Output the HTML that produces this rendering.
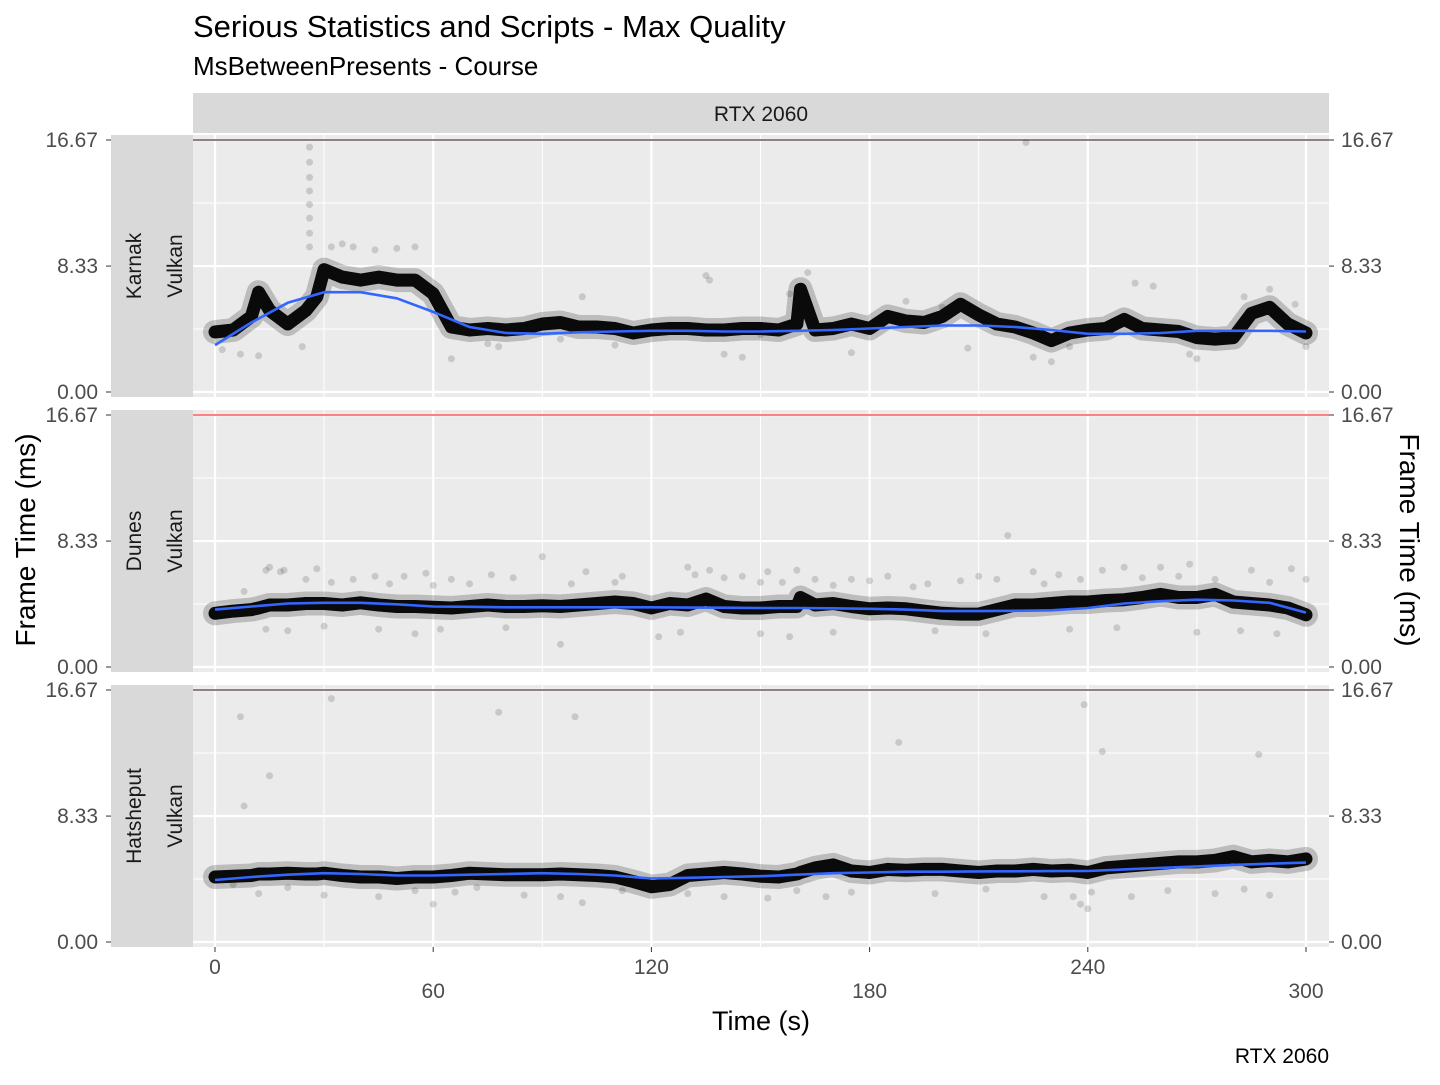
<!DOCTYPE html>
<html><head><meta charset="utf-8"><style>
body{margin:0;background:#fff;}
svg text{font-family:"Liberation Sans",sans-serif;}
</style></head><body>
<svg id="chart" width="1440" height="1080" viewBox="0 0 1440 1080" xmlns="http://www.w3.org/2000/svg">
<text x="193" y="37" font-size="31" fill="#000">Serious Statistics and Scripts - Max Quality</text>
<text x="193" y="75" font-size="26" fill="#000">MsBetweenPresents - Course</text>
<rect x="193" y="93" width="1136" height="40" fill="#d9d9d9"/>
<text x="761" y="121" font-size="21" text-anchor="middle" fill="#1a1a1a">RTX 2060</text>
<g id="panels"></g>
<text transform="translate(35,540) rotate(-90)" font-size="28" text-anchor="middle">Frame Time (ms)</text>
<text transform="translate(1400,540) rotate(90)" font-size="28" text-anchor="middle">Frame Time (ms)</text>
<text x="761" y="1030" font-size="27" text-anchor="middle">Time (s)</text>
<text x="1329" y="1063" font-size="21" text-anchor="end">RTX 2060</text>
</svg>
<script>
const bandTimes = [0,5,10,12,15,20,25,28,30,35,40,45,50,55,60,65,70,75,80,85,90,95,100,105,110,115,120,125,130,135,140,145,150,155,160,161,165,170,175,180,185,190,195,200,205,210,215,220,225,230,235,240,245,250,255,260,265,270,275,280,285,290,295,300];
const karnakBand = [3.97,4.1,5.0,6.6,5.4,4.5,5.4,6.3,8.1,7.6,7.4,7.6,7.4,7.4,6.5,4.3,4.1,4.2,4.1,4.2,4.5,4.6,4.3,4.3,4.2,3.9,4.1,4.2,4.2,4.1,4.1,4.2,4.2,4.1,4.5,6.8,4.1,4.2,4.5,4.2,5.0,4.7,4.6,5.0,5.8,5.1,4.5,4.3,3.9,3.4,3.9,4.1,4.2,4.8,4.2,4.1,4.0,3.6,3.5,3.6,5.2,5.6,4.5,3.9];
const dunesBand = [3.55,3.7,3.8,3.9,4.1,4.1,4.2,4.2,4.2,4.1,4.25,4.1,4.0,4.0,3.95,3.9,4.0,4.1,4.0,4.0,4.05,4.0,4.1,4.2,4.3,4.2,3.9,4.2,4.1,4.5,4.0,3.9,3.9,4.0,4.0,4.6,4.1,4.2,4.0,3.85,3.9,3.85,3.7,3.55,3.5,3.5,3.8,4.1,4.1,4.2,4.3,4.3,4.4,4.45,4.6,4.8,4.6,4.6,4.8,4.3,4.2,4.1,3.9,3.45];
const hatshepsutBand = [4.3,4.35,4.4,4.5,4.5,4.55,4.5,4.5,4.55,4.4,4.3,4.3,4.2,4.3,4.3,4.4,4.55,4.5,4.45,4.45,4.45,4.5,4.45,4.4,4.3,4.0,3.65,3.8,4.4,4.5,4.6,4.5,4.35,4.3,4.5,4.6,4.9,5.1,4.7,4.6,4.8,4.75,4.8,4.8,4.7,4.6,4.7,4.7,4.8,4.7,4.75,4.6,4.9,5.0,5.1,5.2,5.3,5.3,5.4,5.65,5.3,5.4,5.3,5.5];
const smoothTimes = [0,10,20,30,40,50,60,70,80,90,100,110,120,130,140,150,160,170,180,190,200,210,220,230,240,250,260,270,280,290,300];
const karnakSmooth = [3.1,4.6,5.9,6.6,6.6,6.2,5.3,4.3,3.9,3.85,3.95,4.0,4.05,4.05,4.0,4.0,4.05,4.1,4.2,4.3,4.4,4.4,4.3,4.1,3.85,3.85,3.9,4.05,4.05,4.05,4.0];
const dunesSmooth = [3.8,4.0,4.2,4.25,4.25,4.15,4.0,3.98,3.95,3.95,3.95,3.95,3.95,3.93,3.92,3.9,3.9,3.88,3.85,3.8,3.7,3.7,3.72,3.75,3.9,4.2,4.35,4.45,4.4,4.25,3.6];
const hatshepsutSmooth = [4.1,4.3,4.45,4.55,4.5,4.4,4.4,4.45,4.5,4.55,4.5,4.4,4.2,4.25,4.3,4.35,4.45,4.55,4.6,4.65,4.65,4.67,4.68,4.69,4.7,4.8,4.9,5.0,5.1,5.18,5.25];
const karnakOutT = [26,26,26,26,26,26,26,26,32,35,38,44,50,55,2,7,12,24,65,75,78,95,101,110,135,136,140,145,150,158,163,175,190,200,207,223,225,230,235,253,258,268,270,283,290,297,300];
const karnakOutV = [16.2,15.2,14.2,13.3,12.4,11.5,10.5,9.6,9.6,9.8,9.6,9.4,9.5,9.6,2.8,2.5,2.4,3.0,2.2,3.2,3.0,3.5,6.3,3.1,7.7,7.4,2.5,2.3,3.8,6.5,7.9,2.6,6.0,5.6,2.9,16.5,2.3,2.0,3.0,7.2,7.0,2.5,2.2,6.3,6.8,5.8,3.0];
const dunesOutT = [8,14,15,18,19,25,28,32,38,44,48,52,58,60,65,70,76,82,90,98,102,110,112,130,132,136,140,145,150,152,156,160,165,170,175,180,185,192,196,205,210,215,218,225,228,232,238,244,250,255,260,265,268,275,285,290,296,300,14,20,30,45,55,62,80,95,122,128,150,158,170,198,212,235,248,270,282,292];
const dunesOutV = [5.0,6.4,6.6,6.3,6.4,5.8,6.5,5.6,5.8,6.0,5.5,6.0,6.2,5.4,5.8,5.5,6.1,5.9,7.3,5.5,6.3,5.6,6.0,6.6,6.1,6.4,5.9,6.0,5.6,6.3,5.6,6.4,5.8,5.4,5.8,5.7,6.0,5.3,5.5,5.7,6.0,5.8,8.7,6.3,5.5,6.1,5.8,6.4,6.6,5.9,6.6,6.0,6.8,5.8,6.4,5.6,6.5,5.8,2.5,2.4,2.7,2.5,2.2,2.5,2.6,1.5,2.0,2.3,2.2,2.0,2.3,2.4,2.2,2.5,2.6,2.3,2.4,2.2];
const hatshepsutOutT = [7,8,15,32,78,99,188,239,244,287,5,12,20,30,45,55,60,66,72,85,95,101,112,120,130,140,152,160,168,175,198,212,228,236,238,240,241,252,262,275,283,290];
const hatshepsutOutV = [14.9,9.0,11.0,16.1,15.2,14.9,13.2,15.7,12.6,12.4,3.8,3.2,3.6,3.1,3.0,3.4,2.5,3.3,3.6,3.1,3.0,2.6,3.4,3.8,3.2,3.0,2.9,3.4,3.0,3.3,3.2,3.5,3.0,3.0,2.5,2.2,3.3,3.0,3.4,3.2,3.5,3.1];

const panels = [
  {name:'karnak', label:'Karnak', band:karnakBand, smooth:karnakSmooth, outT:karnakOutT, outV:karnakOutV},
  {name:'dunes', label:'Dunes', band:dunesBand, smooth:dunesSmooth, outT:dunesOutT, outV:dunesOutV},
  {name:'hatshepsut', label:'Hatsheput', band:hatshepsutBand, smooth:hatshepsutSmooth, outT:hatshepsutOutT, outV:hatshepsutOutV}
];
const yTicks = [0, 8.33, 16.67];
const yTickLabels = ['0.00','8.33','16.67'];
const yMinor = [4.165, 12.5];
const xTicks = [0,60,120,180,240,300];
const xMinor = [30,90,150,210,270];

const NS = 'http://www.w3.org/2000/svg';
const root = document.getElementById('panels');
const PX0 = 193, PW = 1136, PH = 262;
const xs = t => 215 + t * (1306 - 215) / 300;
function mk(tag, attrs, parent){
  const e = document.createElementNS(NS, tag);
  for (const k in attrs) e.setAttribute(k, attrs[k]);
  (parent || root).appendChild(e);
  return e;
}
panels.forEach((p, i) => {
  const top = 135 + i * 275;
  const ys = v => top + 5 + (16.67 - v) * 252 / 16.67;
  const g = mk('g', {});
  
  
  const bg = mk('rect', {x:PX0, y:top, width:PW, height:PH, fill:'#ebebeb'}, g);
  
  
  const strip = mk('rect', {x:111, y:top, width:82, height:PH, fill:'#d9d9d9'}, g);
  
  
  const l1 = mk('text', {transform:`translate(141,${top+PH/2}) rotate(-90)`, 'font-size':21, 'text-anchor':'middle', fill:'#1a1a1a'}, g);
  l1.textContent = p.label;
  
  
  const l2 = mk('text', {transform:`translate(182,${top+PH/2}) rotate(-90)`, 'font-size':21, 'text-anchor':'middle', fill:'#1a1a1a'}, g);
  l2.textContent = 'Vulkan';
  
  
  yMinor.forEach(v => {
    const gl = mk('line', {x1:PX0, x2:PX0+PW, y1:ys(v), y2:ys(v), stroke:'#fff', 'stroke-width':1}, g);
    
    
  });
  xMinor.forEach(t => {
    const gl = mk('line', {x1:xs(t), x2:xs(t), y1:top, y2:top+PH, stroke:'#fff', 'stroke-width':1}, g);
    
    
  });
  yTicks.forEach((v, k) => {
    const gl = mk('line', {x1:PX0, x2:PX0+PW, y1:ys(v), y2:ys(v), stroke:'#fff', 'stroke-width':2.2}, g);
    
    
    const tl = mk('line', {x1:106, x2:111, y1:ys(v), y2:ys(v), stroke:'#333', 'stroke-width':1}, g);
    
    
    const tr = mk('line', {x1:PX0+PW, x2:PX0+PW+5, y1:ys(v), y2:ys(v), stroke:'#333', 'stroke-width':1}, g);
    
    
    const a = mk('text', {x:98, y:ys(v)+7, 'font-size':21, 'text-anchor':'end', fill:'#4d4d4d'}, g);
    a.textContent = yTickLabels[k];
    
    
    const b = mk('text', {x:1341, y:ys(v)+7, 'font-size':21, fill:'#4d4d4d'}, g);
    b.textContent = yTickLabels[k];
    
    
  });
  xTicks.forEach(t => {
    const gl = mk('line', {x1:xs(t), x2:xs(t), y1:top, y2:top+PH, stroke:'#fff', 'stroke-width':2.2}, g);
    
    
  });
  const ref = mk('line', {x1:PX0, x2:PX0+PW, y1:ys(16.67), y2:ys(16.67), stroke: i===1 ? '#ff0000' : '#200000', 'stroke-width':1}, g);
  
  
  p.outT.forEach((t, k) => {
    const c = mk('circle', {cx:xs(t), cy:ys(p.outV[k]), r:3.5, fill:'#000', 'fill-opacity':0.15}, g);
    
    
  });
  const pts = bandTimes.map((t, k) => xs(t).toFixed(1) + ',' + ys(p.band[k]).toFixed(1)).join(' ');
  const halo = mk('polyline', {points:pts, fill:'none', stroke:'#000', 'stroke-opacity':0.2, 'stroke-width':24, 'stroke-linejoin':'round', 'stroke-linecap':'round'}, g);
  
  
  const band = mk('polyline', {points:pts, fill:'none', stroke:'#0a0a0a', 'stroke-width':13, 'stroke-linejoin':'round', 'stroke-linecap':'round'}, g);
  
  
  const spts = smoothTimes.map((t, k) => xs(t).toFixed(1) + ',' + ys(p.smooth[k]).toFixed(1)).join(' ');
  const sm = mk('polyline', {points:spts, fill:'none', stroke:'#3366ff', 'stroke-width':2.6, 'stroke-linejoin':'round'}, g);
  
  
});
xTicks.forEach((t, k) => {
  const tk = mk('line', {x1:xs(t), x2:xs(t), y1:947, y2:952, stroke:'#333', 'stroke-width':1});
  
  
  const lb = mk('text', {x:xs(t), y: k % 2 === 0 ? 974 : 998, 'font-size':21, 'text-anchor':'middle', fill:'#4d4d4d'});
  lb.textContent = String(t);
  
  
});
</script>
</body></html>
